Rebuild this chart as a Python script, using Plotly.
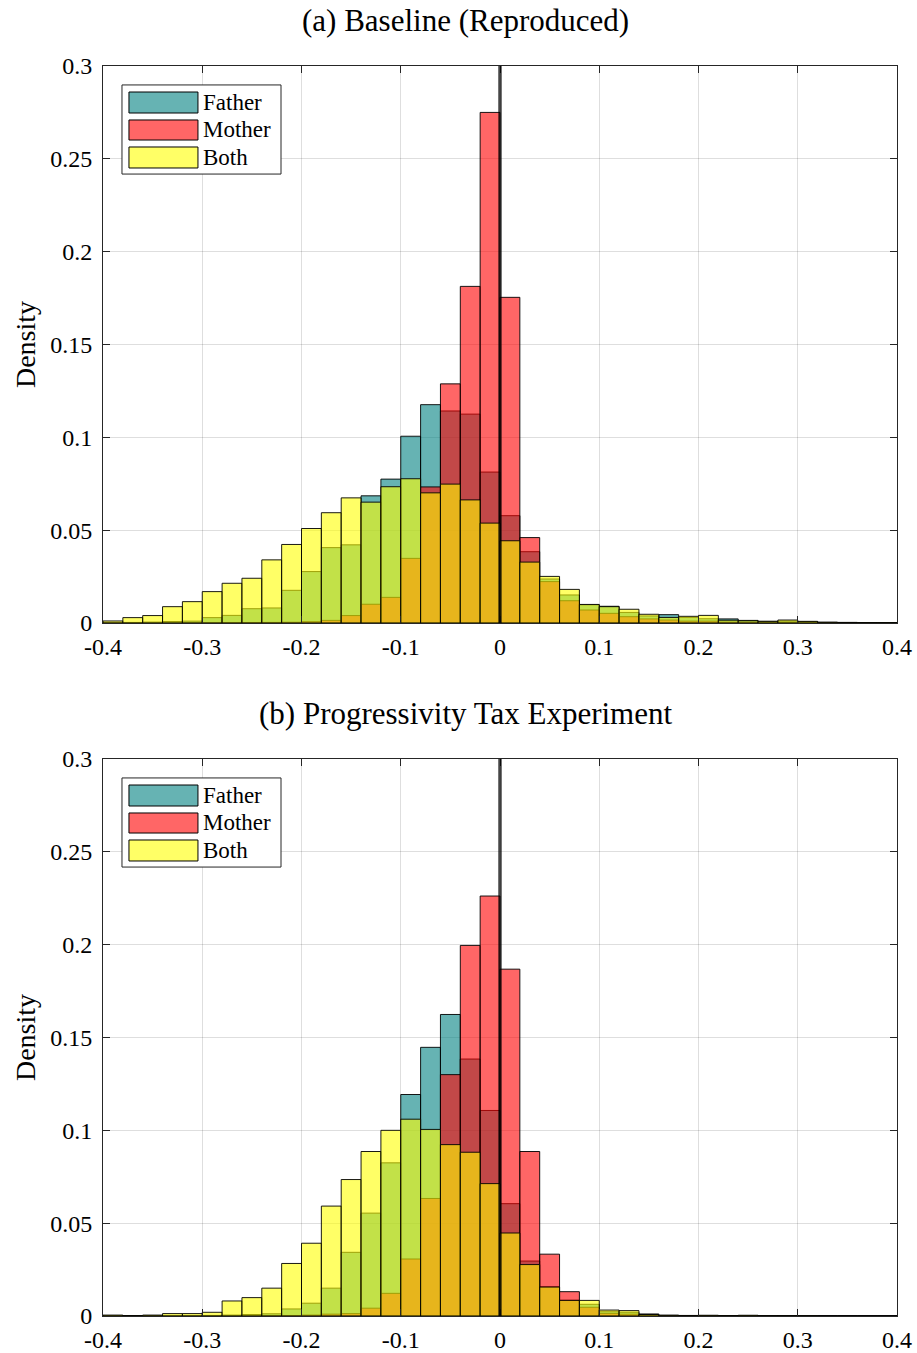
import numpy as np
import plotly.graph_objects as go

# ---------------- data ----------------
bin_edges = np.round(np.arange(-0.40, 0.4001, 0.02), 2)
bin_centers = np.round((bin_edges[:-1] + bin_edges[1:]) / 2, 3)
bin_width = 0.02

series_names = ["Father", "Mother", "Both"]

# (a) Baseline (Reproduced)
a_father = [0.0003, 0.0003, 0.0005, 0.0008, 0.0010, 0.0029, 0.0041, 0.0077, 0.0081, 0.0176,
            0.0277, 0.0406, 0.0421, 0.0685, 0.0775, 0.1006, 0.1176, 0.1142, 0.1125, 0.0813,
            0.0578, 0.0384, 0.0237, 0.0151, 0.0098, 0.0090, 0.0057, 0.0038, 0.0045, 0.0030,
            0.0023, 0.0022, 0.0014, 0.0009, 0.0010, 0.0008, 0.0004, 0.0003, 0.0002, 0.0002]
a_mother = [0.0000, 0.0000, 0.0000, 0.0000, 0.0000, 0.0000, 0.0001, 0.0002, 0.0003, 0.0004,
            0.0007, 0.0014, 0.0040, 0.0101, 0.0138, 0.0348, 0.0733, 0.1288, 0.1813, 0.2750,
            0.1754, 0.0460, 0.0223, 0.0120, 0.0070, 0.0052, 0.0034, 0.0022, 0.0016, 0.0010,
            0.0010, 0.0005, 0.0004, 0.0002, 0.0002, 0.0001, 0.0001, 0.0001, 0.0000, 0.0000]
a_both = [0.0011, 0.0029, 0.0040, 0.0088, 0.0115, 0.0169, 0.0214, 0.0241, 0.0340, 0.0423,
          0.0509, 0.0594, 0.0674, 0.0651, 0.0734, 0.0777, 0.0701, 0.0748, 0.0663, 0.0538,
          0.0443, 0.0328, 0.0251, 0.0181, 0.0100, 0.0088, 0.0074, 0.0047, 0.0030, 0.0036,
          0.0041, 0.0015, 0.0012, 0.0009, 0.0016, 0.0009, 0.0004, 0.0003, 0.0002, 0.0002]

# (b) Progressivity Tax Experiment
b_father = [0.0000, 0.0000, 0.0000, 0.0001, 0.0002, 0.0003, 0.0005, 0.0008, 0.0012, 0.0038,
            0.0069, 0.0150, 0.0343, 0.0554, 0.0825, 0.1193, 0.1447, 0.1624, 0.1384, 0.1107,
            0.0605, 0.0296, 0.0157, 0.0085, 0.0063, 0.0023, 0.0020, 0.0011, 0.0004, 0.0003,
            0.0002, 0.0001, 0.0001, 0.0001, 0.0001, 0.0000, 0.0000, 0.0000, 0.0000, 0.0000]
b_mother = [0.0000, 0.0000, 0.0000, 0.0000, 0.0000, 0.0000, 0.0000, 0.0001, 0.0001, 0.0002,
            0.0005, 0.0010, 0.0013, 0.0042, 0.0122, 0.0307, 0.0633, 0.1300, 0.1996, 0.2262,
            0.1868, 0.0886, 0.0333, 0.0131, 0.0047, 0.0014, 0.0010, 0.0005, 0.0002, 0.0002,
            0.0001, 0.0001, 0.0001, 0.0000, 0.0000, 0.0000, 0.0000, 0.0000, 0.0000, 0.0000]
b_both = [0.0005, 0.0002, 0.0005, 0.0013, 0.0013, 0.0020, 0.0081, 0.0099, 0.0150, 0.0283,
          0.0392, 0.0592, 0.0735, 0.0886, 0.1000, 0.1060, 0.1005, 0.0923, 0.0882, 0.0713,
          0.0447, 0.0277, 0.0156, 0.0084, 0.0084, 0.0032, 0.0029, 0.0008, 0.0004, 0.0002,
          0.0004, 0.0002, 0.0004, 0.0001, 0.0001, 0.0001, 0.0000, 0.0000, 0.0000, 0.0000]

panel_titles = ["(a) Baseline (Reproduced)", "(b) Progressivity Tax Experiment"]
x_tickvals = [-0.4, -0.3, -0.2, -0.1, 0, 0.1, 0.2, 0.3, 0.4]
x_ticktext = ["-0.4", "-0.3", "-0.2", "-0.1", "0", "0.1", "0.2", "0.3", "0.4"]
y_tickvals = [0, 0.05, 0.1, 0.15, 0.2, 0.25, 0.3]
y_ticktext = ["0", "0.05", "0.1", "0.15", "0.2", "0.25", "0.3"]

# ---------------- style ----------------
FONT = "Liberation Serif"
fills = ["rgba(0,128,128,0.6)", "rgba(255,0,0,0.6)", "rgba(255,255,0,0.6)"]
W, H = 917, 1353
ML, MR, MT, MB = 103, 20, 66, 37
plot_h = 557
total_h = H - MT - MB
top_dom = [1 - plot_h / total_h, 1]
bot_dom = [0, plot_h / total_h]

fig = go.Figure()
panels = [(a_father, a_mother, a_both), (b_father, b_mother, b_both)]
axes = [("x", "y"), ("x2", "y2")]
for (xa, ya), vals in zip(axes, panels):
    for name, v, c in zip(series_names, vals, fills):
        fig.add_trace(go.Bar(
            x=bin_centers, y=v, width=bin_width, name=name,
            marker=dict(color=c, line=dict(color="rgba(0,0,0,0.9)", width=1)),
            xaxis=xa, yaxis=ya, showlegend=False))

axis_common = dict(
    showline=True, linecolor="#262626", linewidth=1, mirror="ticks",
    ticks="inside", ticklen=7, tickcolor="#262626", tickwidth=1,
    showgrid=True, gridcolor="rgba(0,0,0,0.13)", gridwidth=1,
    zeroline=False, automargin=False,
    tickfont=dict(family=FONT, size=24, color="black"),
)
ytitle = dict(text="Density", font=dict(family=FONT, size=28), standoff=6)
fig.update_layout(
    width=W, height=H, margin=dict(l=ML, r=MR, t=MT, b=MB, autoexpand=False),
    plot_bgcolor="white", paper_bgcolor="white", barmode="overlay",
    font=dict(family=FONT, color="black"),
    xaxis=dict(axis_common, range=[-0.4, 0.4], tickvals=x_tickvals, ticktext=x_ticktext,
               anchor="y", domain=[0, 1], ticklabelstandoff=2),
    yaxis=dict(axis_common, range=[0, 0.3], tickvals=y_tickvals, ticktext=y_ticktext,
               anchor="x", domain=top_dom, ticklabelstandoff=5, title=ytitle),
    xaxis2=dict(axis_common, range=[-0.4, 0.4], tickvals=x_tickvals, ticktext=x_ticktext,
                anchor="y2", domain=[0, 1], ticklabelstandoff=2),
    yaxis2=dict(axis_common, range=[0, 0.3], tickvals=y_tickvals, ticktext=y_ticktext,
                anchor="x2", domain=bot_dom, ticklabelstandoff=5, title=ytitle),
)

shapes = []
annotations = []
# legend geometry in axis-domain fractions
box = (0.0239, 0.2242, 0.806, 0.966)
sw_x = (0.0327, 0.1196)
sw_y = [(0.9156, 0.9533), (0.8671, 0.9031), (0.8169, 0.8546)]
txt_x = 0.124
for (xa, ya), title in zip(axes, panel_titles):
    xd, yd = xa + " domain", ya + " domain"
    # zero line
    shapes.append(dict(type="line", xref=xa, yref=yd, x0=0, x1=0, y0=0, y1=1,
                       line=dict(color="rgba(0,0,0,0.72)", width=3.5), layer="above"))
    # legend box
    shapes.append(dict(type="rect", xref=xd, yref=yd, x0=box[0], x1=box[1], y0=box[2], y1=box[3],
                       fillcolor="white", line=dict(color="#262626", width=1), layer="above"))
    for name, c, (y0, y1) in zip(series_names, fills, sw_y):
        shapes.append(dict(type="rect", xref=xd, yref=yd, x0=sw_x[0], x1=sw_x[1], y0=y0, y1=y1,
                           fillcolor=c, line=dict(color="black", width=1), layer="above"))
        annotations.append(dict(text=name, xref=xd, yref=yd, x=txt_x, y=(y0 + y1) / 2,
                                xanchor="left", yanchor="middle", showarrow=False,
                                font=dict(family=FONT, size=23, color="black")))
    annotations.append(dict(text=title, xref=xd, yref=yd, x=0.456, y=1.082,
                            xanchor="center", yanchor="middle", showarrow=False,
                            font=dict(family=FONT, size=31, color="black")))

fig.update_layout(shapes=shapes, annotations=annotations)
# pin the 917x1353 figure to the window's top-left corner, with no page margin
fig.write_html(
    "out.html",
    config={"displayModeBar": False, "staticPlot": True},
    post_script="var d=document.getElementById('{plot_id}');"
                "d.style.position='fixed';d.style.left='0px';d.style.top='0px';"
                "document.body.style.margin='0';"
                "document.documentElement.style.overflow='hidden';"
                "document.body.style.overflow='hidden';",
)
